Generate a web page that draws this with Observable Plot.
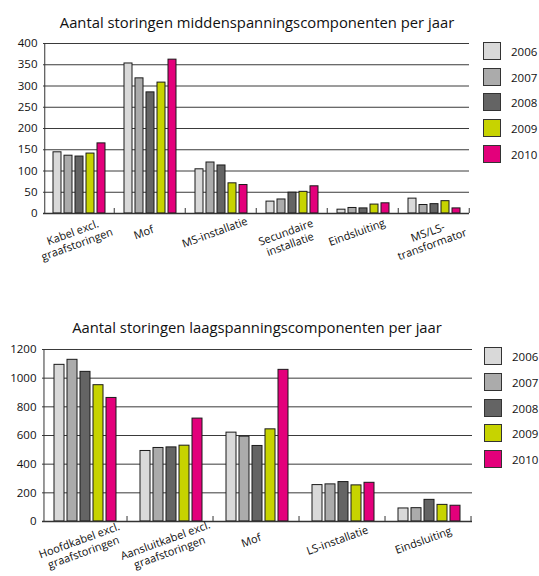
<!DOCTYPE html>
<html>
<head>
<meta charset="utf-8">
<script src="https://cdn.jsdelivr.net/npm/d3@7"></script>
<script src="https://cdn.jsdelivr.net/npm/@observablehq/plot@0.6"></script>
<style>
  html, body { margin: 0; padding: 0; background: #fff; }
  #root { position: relative; width: 539px; height: 576px; font-family: "Open Sans", sans-serif; color: #111; overflow: hidden; }
  .title { position: absolute; font-size: 14.8px; white-space: nowrap; transform: translate(-50%, -50%); }
  .chart { position: absolute; left: 0; }
  .leg { position: absolute; font-size: 11.5px; }
  .sw { position: absolute; width: 16px; height: 16px; border: 1px solid #333; }
  .lab { position: absolute; white-space: nowrap; transform: translateY(-50%); }
</style>
</head>
<body>
<div id="root"></div>
<script>
// ---- Data ----
const years = ["2006", "2007", "2008", "2009", "2010"];
const yearColors = ["#d9d9d9", "#ababab", "#646464", "#c7d300", "#e3007b"];

const mvTitle = "Aantal storingen middenspanningscomponenten per jaar";
const mvCategories = ["Kabel excl.\ngraafstoringen", "Mof", "MS-installatie", "Secundaire\ninstallatie", "Eindsluiting", "MS/LS-\ntransformator"];
const mv2006 = [144, 353, 104, 28, 9, 35];
const mv2007 = [136, 318, 120, 33, 13, 20];
const mv2008 = [134, 285, 113, 49, 12, 22];
const mv2009 = [141, 308, 71, 51, 21, 29];
const mv2010 = [165, 362, 67, 64, 24, 12];
const mvTicks = [0, 50, 100, 150, 200, 250, 300, 350, 400];

const lsTitle = "Aantal storingen laagspanningscomponenten per jaar";
const lsCategories = ["Hoofdkabel excl.\ngraafstoringen", "Aansluitkabel excl.\ngraafstoringen", "Mof", "LS-installatie", "Eindsluiting"];
const ls2006 = [1093, 492, 620, 254, 91];
const ls2007 = [1128, 513, 592, 259, 93];
const ls2008 = [1044, 517, 527, 275, 151];
const ls2009 = [951, 529, 643, 252, 116];
const ls2010 = [862, 718, 1058, 270, 110];
const lsTicks = [0, 200, 400, 600, 800, 1000, 1200];

// ---- Chart builder ----
function buildChart(cats, series, ticks, o) {
  const rows = cats.flatMap((c, i) => years.map((y, j) => ({cat: c, year: y, value: series[j][i]})));
  const innerH = o.height - o.marginTop - o.marginBottom;
  const yMax = ticks[ticks.length - 1];
  const tickLen = 5 * yMax / innerH; // 5px expressed in data units
  const po = 0.75;
  // offset from the centre of the first/last band to the facet edges (from the band scale settings)
  const facetW = (539 - o.marginLeft - o.marginRight) / cats.length;
  const step = facetW / (years.length - o.pi + 2 * po);
  const edgeDx = step * (1 - o.pi) / 2 + po * step;
  return Plot.plot({
    width: 539,
    height: o.height,
    marginTop: o.marginTop,
    marginBottom: o.marginBottom,
    marginLeft: o.marginLeft,
    marginRight: o.marginRight,
    style: {fontFamily: "'Open Sans', sans-serif", fontSize: "11px", color: "#111", background: "transparent", overflow: "visible"},
    fx: {domain: cats, padding: 0, axis: null},
    x: {domain: years, paddingInner: o.pi, paddingOuter: po, axis: null},
    y: {domain: [ticks[0], yMax]},
    color: {domain: years, range: yearColors},
    marks: [
      Plot.gridY(ticks, {stroke: "#3a3a3a", strokeOpacity: 1, strokeWidth: 1}),
      Plot.axisY(ticks, {tickSize: 0, tickPadding: 6, label: null, fontSize: 11.5, tickFormat: d => String(d)}),
      Plot.barY(rows, {fx: "cat", x: "year", y: "value", fill: "year", stroke: "#1a1a1a", strokeWidth: 1}),
      Plot.ruleY([0], {stroke: "#333", strokeWidth: 1.6}),
      Plot.ruleX([cats[0]], {fx: d => d, x: () => years[0], y1: () => 0, y2: () => yMax, dx: -edgeDx, stroke: "#333"}),
      Plot.ruleX(cats, {fx: d => d, x: () => years[years.length - 1], y1: () => 0, y2: () => tickLen, dx: edgeDx, stroke: "#333"}),
      Plot.text(cats, {fx: d => d, text: d => d, frameAnchor: "bottom", lineAnchor: "top", rotate: -20, dy: o.labelDy, dx: -8, fontSize: 11, lineHeight: 1.15})
    ]
  });
}

const root = document.getElementById("root");

function addTitle(text, cx, cy) {
  const t = document.createElement("div");
  t.className = "title";
  t.textContent = text;
  t.style.left = cx + "px";
  t.style.top = cy + "px";
  root.appendChild(t);
}

function addLegend(left, top, step) {
  years.forEach((y, i) => {
    const sw = document.createElement("div");
    sw.className = "sw";
    sw.style.left = left + "px";
    sw.style.top = (top + i * step) + "px";
    sw.style.background = yearColors[i];
    root.appendChild(sw);
    const lab = document.createElement("div");
    lab.className = "lab leg";
    lab.textContent = y;
    lab.style.left = (left + 28) + "px";
    lab.style.top = (top + i * step + 9) + "px";
    root.appendChild(lab);
  });
}

// Top chart
const c1 = buildChart(mvCategories, [mv2006, mv2007, mv2008, mv2009, mv2010], mvTicks,
  {height: 290, marginTop: 43, marginBottom: 77, marginLeft: 40, marginRight: 68, pi: 0.3, labelDy: 14});
c1.classList.add("chart");
c1.style.top = "0px";
root.appendChild(c1);
addTitle(mvTitle, 257, 22);
addLegend(483, 42, 25.7);

// Bottom chart
const c2 = buildChart(lsCategories, [ls2006, ls2007, ls2008, ls2009, ls2010], lsTicks,
  {height: 276, marginTop: 49, marginBottom: 55, marginLeft: 41, marginRight: 67, pi: 0.25, labelDy: 14});
c2.classList.add("chart");
c2.style.top = "300px";
root.appendChild(c2);
addTitle(lsTitle, 257, 327);
addLegend(484, 347, 25.8);
</script>
</body>
</html>
